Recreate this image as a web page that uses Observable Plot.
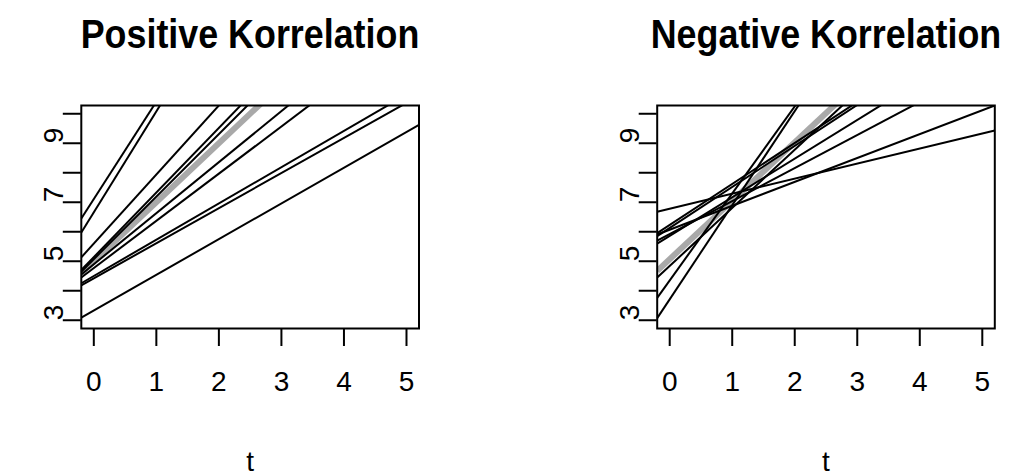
<!DOCTYPE html>
<html><head><meta charset="utf-8">
<script src="https://cdn.jsdelivr.net/npm/d3@7"></script>
<script src="https://cdn.jsdelivr.net/npm/@observablehq/plot@0.6"></script>
<style>
body{margin:0;background:#fff;}
#wrap{position:relative;width:1011px;height:476px;overflow:hidden;font-family:"Liberation Sans",Arial,Helvetica,sans-serif;}
#wrap svg{position:absolute;left:0;top:0;}
.title{position:absolute;top:14px;font-weight:bold;font-size:32px;line-height:40px;white-space:nowrap;transform:translateX(-50%) scale(1.12,1.25);color:#000;}
</style></head><body><div id="wrap"></div>
<script>
const titles = ["Positive Korrelation", "Negative Korrelation"];
const xLabel = "t";
const xTicks = [0, 1, 2, 3, 4, 5];
const yTicks = [3, 4, 5, 6, 7, 8, 9, 10];
const yTickLabels = [3, 5, 7, 9];
const xLim = [0, 5];
const yLim = [3, 10];

// Positive panel: individual lines (intercept at t = 0, slope)
const posIntercept = [7.11, 6.66, 5.60, 5.14, 5.07, 4.90, 4.77, 4.50, 4.42, 3.33];
const posSlope     = [3.30, 3.42, 2.34, 2.19, 2.12, 1.73, 1.60, 1.23, 1.19, 1.21];
const posMeanIntercept = [5.00];
const posMeanSlope     = [2.00];

// Negative panel
const negIntercept = [6.78, 6.07, 5.92, 5.86, 6.23, 6.13, 4.84, 4.35, 3.71];
const negSlope     = [0.51, 0.81, 1.12, 1.31, 1.39, 1.39, 1.97, 2.95, 3.19];
const negMeanIntercept = [5.07];
const negMeanSlope     = [1.98];

const padX = 0.04 * (xLim[1] - xLim[0]);
const padY = 0.04 * (yLim[1] - yLim[0]);
const xDom = [xLim[0] - padX, xLim[1] + padX];
const yDom = [yLim[0] - padY, yLim[1] + padY];
const FONT = "'Liberation Sans', Arial, Helvetica, sans-serif";

function panel(intercepts, slopes, mIntercepts, mSlopes, marginLeft, marginRight) {
  const lines = intercepts.map((a, i) => ({a, b: slopes[i]}));
  const mean = mIntercepts.map((a, i) => ({a, b: mSlopes[i]}));
  const seg = {
    x1: () => xDom[0], y1: d => d.a + d.b * xDom[0],
    x2: () => xDom[1], y2: d => d.a + d.b * xDom[1],
    clip: true
  };
  return Plot.plot({
    width: 1011, height: 476,
    marginLeft, marginRight, marginTop: 105, marginBottom: 148,
    x: {domain: xDom},
    y: {domain: yDom},
    style: {fontFamily: FONT, fontSize: "28px", background: "transparent", color: "#000"},
    marks: [
      Plot.link(mean, {...seg, stroke: "#a9a9a9", strokeWidth: 6}),
      Plot.link(lines, {...seg, stroke: "#000", strokeWidth: 2}),
      Plot.frame({stroke: "#000", strokeWidth: 2}),
      Plot.axisX(xTicks, {tickSize: 18, tickFormat: () => "", strokeWidth: 2, strokeOpacity: 1}),
      Plot.axisY(yTicks, {tickSize: 18, tickFormat: () => "", strokeWidth: 2, strokeOpacity: 1}),
      Plot.text(xTicks, {x: d => d, text: d => String(d), frameAnchor: "bottom", dy: 62, fontSize: 28, ariaLabel: "xlab"}),
      Plot.text(yTickLabels, {y: d => d, text: d => String(d), frameAnchor: "left", dx: -27, rotate: -90, fontSize: 28, ariaLabel: "ylab"}),
      Plot.text([xLabel], {text: d => d, frameAnchor: "bottom", dy: 142, fontSize: 28, ariaLabel: "tlab"})
    ]
  });
}

// stretch rendered label text in screen space about its own centre
function stretch(svg, selector, sx, sy) {
  const sr = svg.getBoundingClientRect();
  svg.querySelectorAll(selector).forEach(el => {
    const r = el.getBoundingClientRect();
    const pm = el.parentNode.getCTM();
    const px = r.x + r.width / 2 - sr.x - pm.e;
    const py = r.y + r.height / 2 - sr.y - pm.f;
    const old = el.getAttribute("transform") || "";
    el.setAttribute("transform", `translate(${px},${py}) scale(${sx},${sy}) translate(${-px},${-py}) ${old}`);
  });
}

const wrap = document.getElementById("wrap");
const p1 = panel(posIntercept, posSlope, posMeanIntercept, posMeanSlope, 80.8, 1011 - 418.5);
const p2 = panel(negIntercept, negSlope, negMeanIntercept, negMeanSlope, 656.7, 1011 - 994.3);
wrap.appendChild(p1);
wrap.appendChild(p2);
for (const svg of [p1, p2]) {
  stretch(svg, 'g[aria-label="xlab"] text', 1.0, 1.3);
  stretch(svg, 'g[aria-label="tlab"] text', 1.0, 1.3);
  stretch(svg, 'g[aria-label="ylab"] text', 0.8, 1.55);
}
const centers = [(80.8 + 418.5) / 2, (656.7 + 994.3) / 2];
titles.forEach((t, i) => {
  const d = document.createElement("div");
  d.className = "title";
  d.style.left = centers[i] + "px";
  d.textContent = t;
  wrap.appendChild(d);
});
</script>
</body></html>
